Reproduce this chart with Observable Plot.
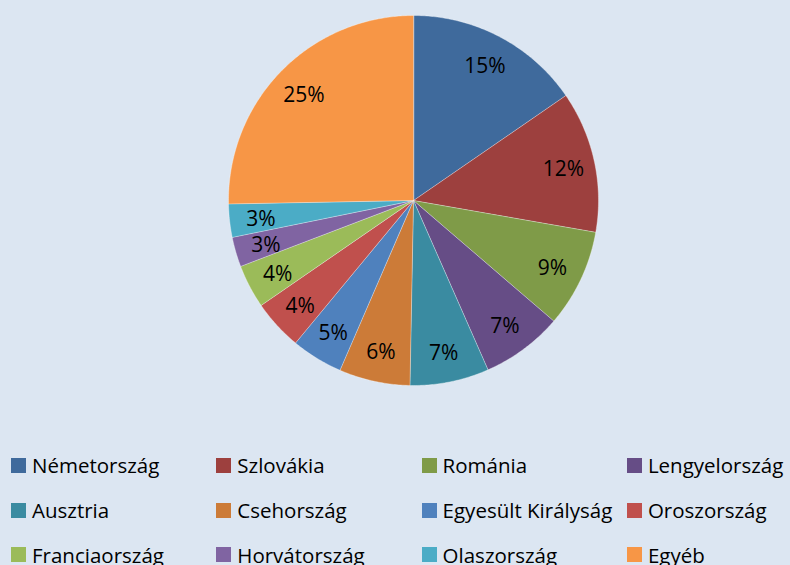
<!DOCTYPE html>
<html>
<head>
<meta charset="utf-8">
<script src="https://cdn.jsdelivr.net/npm/d3@7"></script>
<script src="https://cdn.jsdelivr.net/npm/@observablehq/plot@0.6"></script>
<style>
  html, body { margin: 0; padding: 0; background: #dce6f2; width: 790px; height: 565px; overflow: hidden; }
  body { font-family: "Open Sans", "DejaVu Sans", sans-serif; }
  #legend { display: grid; grid-template-columns: repeat(4, 205.3px); padding-left: 11px; padding-top: 13px; }
  .item { display: flex; align-items: center; height: 44.7px; font-size: 20.5px; color: #000; white-space: nowrap; }
  .sw { width: 15px; height: 15px; margin-right: 6px; flex: none; }
</style>
</head>
<body>
<div id="chart"></div>
<div id="legend"></div>
<script>
const names = ["Németország", "Szlovákia", "Románia", "Lengyelország", "Ausztria", "Csehország",
  "Egyesült Királyság", "Oroszország", "Franciaország", "Horvátország", "Olaszország", "Egyéb"];
const values = [15.4, 12.35, 8.55, 7.1, 6.9, 6.2, 4.5, 4.4, 3.8, 2.6, 2.9, 25.3];
const colors = ["#3f6a9c", "#9d403e", "#7f9b48", "#664d86", "#3a8ba1", "#cc7b38",
  "#4f81bd", "#c0504d", "#9bbb59", "#8064a2", "#4bacc6", "#f79646"];

const total = d3.sum(values);
const arcs = d3.pie().sort(null).value(d => d)(values);

// polygon outline points per slice (angle 0 at top, clockwise)
const slicePts = [];
arcs.forEach((a, i) => {
  slicePts.push({name: names[i], x: 0, y: 0});
  const n = Math.max(8, Math.ceil((a.endAngle - a.startAngle) / 0.01));
  for (let k = 0; k <= n; k++) {
    const t = a.startAngle + (a.endAngle - a.startAngle) * k / n;
    slicePts.push({name: names[i], x: Math.sin(t), y: Math.cos(t)});
  }
});

const labelR = 0.83;
const labels = arcs.map((a, i) => {
  const m = (a.startAngle + a.endAngle) / 2;
  return {name: names[i], x: labelR * Math.sin(m), y: labelR * Math.cos(m),
          text: Math.round(values[i] / total * 100) + "%"};
});

const cx = 413, cy = 200, R = 185;
const chart = Plot.plot({
  width: 790,
  height: 430,
  margin: 0,
  style: {background: "transparent", fontFamily: "'Open Sans', sans-serif", overflow: "visible"},
  x: {domain: [-1, 1], range: [cx - R, cx + R], axis: null},
  y: {domain: [-1, 1], range: [cy + R, cy - R], axis: null},
  color: {domain: names, range: colors},
  marks: [
    Plot.line(slicePts, {x: "x", y: "y", z: "name", fill: "name", stroke: "#ffffff",
      strokeWidth: 0.7, strokeOpacity: 0.5, curve: "linear-closed"}),
    Plot.text(labels, {x: "x", y: "y", text: "text", fontSize: 21, dy: 2, fill: "#000"})
  ]
});
document.getElementById("chart").appendChild(chart);

const legend = document.getElementById("legend");
names.forEach((n, i) => {
  const it = document.createElement("div");
  it.className = "item";
  const sw = document.createElement("span");
  sw.className = "sw";
  sw.style.background = colors[i];
  const tx = document.createElement("span");
  tx.textContent = n;
  it.appendChild(sw);
  it.appendChild(tx);
  legend.appendChild(it);
});
</script>
</body>
</html>
